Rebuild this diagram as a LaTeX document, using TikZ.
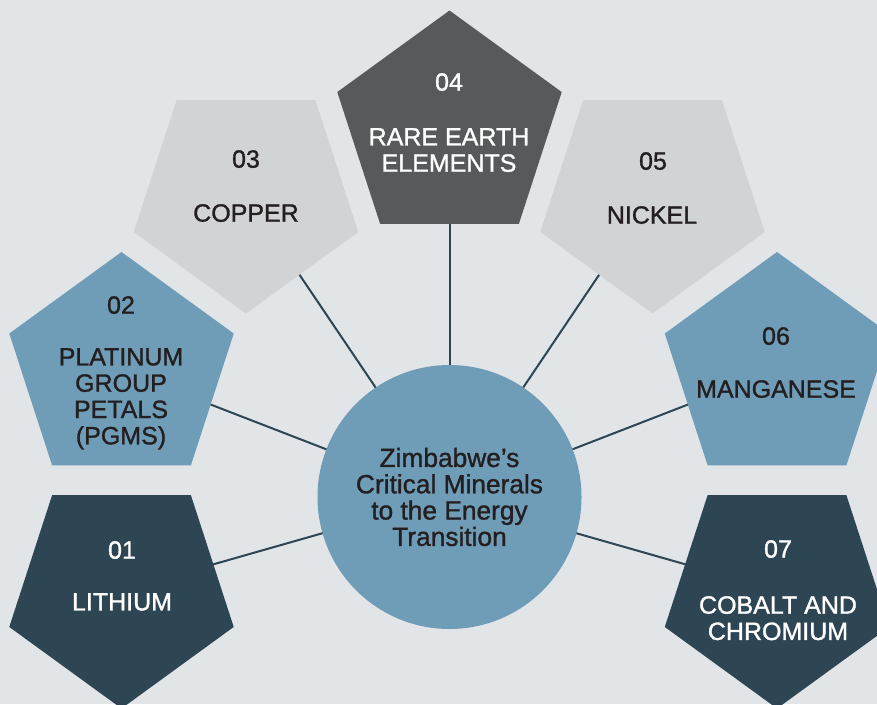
\documentclass[tikz,border=0pt]{standalone}
\usepackage{fontspec}
\setmainfont{Liberation Sans}
\newfontfamily\medfont{Liberation Sans}[FakeBold=1.2]
\usetikzlibrary{shapes.geometric}
\pgfdeclarelayer{bglayer}
\pgfdeclarelayer{edgelayer}
\pgfsetlayers{bglayer,edgelayer,main}
\definecolor{bgc}{HTML}{E1E5E8}
\definecolor{navy}{HTML}{2E4654}
\definecolor{steel}{HTML}{6F9DB8}
\definecolor{pale}{HTML}{D2D3D5}
\definecolor{slate}{HTML}{58595B}
\definecolor{ink}{HTML}{231F20}
\begin{document}
\begin{tikzpicture}[x=1pt,y=-1pt,
  pent/.style={regular polygon, regular polygon sides=5, minimum size=236pt,
    inner sep=0pt, outer sep=0pt, draw=none},
  pup/.style={pent},
  pdown/.style={pent, shape border rotate=180},
  lbl/.style={inner sep=0pt, anchor=north, align=center,
    font=\medfont\fontsize{25}{26.3}\selectfont},
  link/.style={draw=navy, line width=2pt}]
\begin{pgfonlayer}{bglayer}
\fill[bgc] (0,0) rectangle (877,704);
\end{pgfonlayer}
\useasboundingbox (0,0) rectangle (877,704);

% pentagons
\node[pdown, fill=navy]  (p1) at (121.5,590.5) {};
\node[pup,   fill=steel] (p2) at (121.5,370) {};
\node[pdown, fill=pale]  (p3) at (246,195.5) {};
\node[pup,   fill=slate] (p4) at (449.5,128.5) {};
\node[pdown, fill=pale]  (p5) at (652.5,195.5) {};
\node[pup,   fill=steel] (p6) at (777,370) {};
\node[pdown, fill=navy]  (p7) at (777,590.5) {};

% centre
\node[circle, fill=steel, minimum size=264pt, inner sep=0pt, outer sep=0pt,
  align=center, text=ink, font=\medfont\fontsize{26.3}{26.3}\selectfont]
  (c) at (449.5,497) {Zimbabwe’s\\Critical Minerals\\to the Energy\\Transition};

% connectors
\begin{pgfonlayer}{edgelayer}
\foreach \i in {1,...,7}{\draw[link] (p\i.center) -- (c.center);}
\end{pgfonlayer}

% labels
\node[lbl, text=white] (n1) at (122,541) {01};
\node[lbl, text=white] (t1) at (122,593) {LITHIUM};
\node[lbl, text=ink] (n2) at (121,296) {02};
\node[lbl, text=ink] (t2) at (121,348) {PLATINUM\\GROUP\\PETALS\\(PGMS)};
\node[lbl, text=ink] (n3) at (246,150) {03};
\node[lbl, text=ink] (t3) at (246,204) {COPPER};
\node[lbl, text=white] (n4) at (449,73) {04};
\node[lbl, text=white] (t4) at (449,128) {RARE EARTH\\ELEMENTS};
\node[lbl, text=ink] (n5) at (653,152) {05};
\node[lbl, text=ink] (t5) at (652,206) {NICKEL};
\node[lbl, text=ink] (n6) at (776,327) {06};
\node[lbl, text=ink] (t6) at (776,380) {MANGANESE};
\node[lbl, text=white] (n7) at (778,540) {07};
\node[lbl, text=white] (t7) at (778,596) {COBALT AND\\CHROMIUM};
\end{tikzpicture}
\end{document}
